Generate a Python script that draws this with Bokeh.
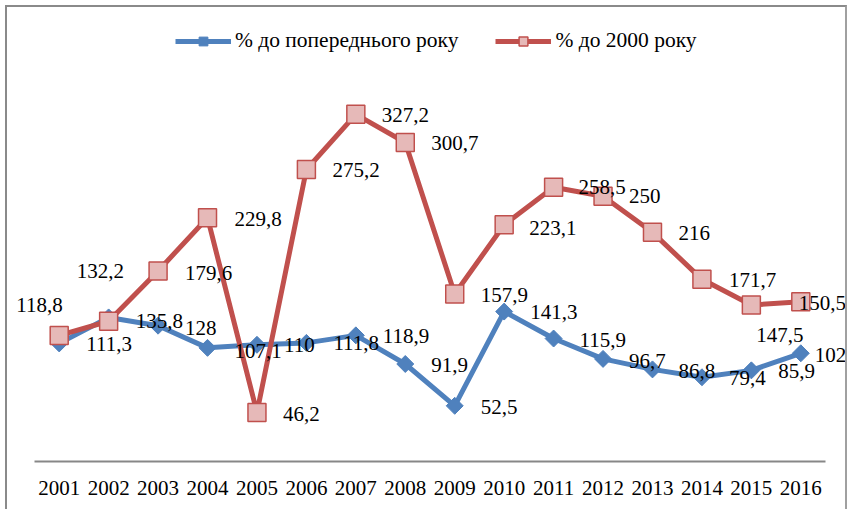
import math
from bokeh.plotting import figure
from bokeh.models import ColumnDataSource, FactorRange, Range1d, Legend, LegendItem, LabelSet
from bokeh.embed import file_html
from bokeh.resources import INLINE

# ---- data ----
years = ["2001", "2002", "2003", "2004", "2005", "2006", "2007", "2008",
         "2009", "2010", "2011", "2012", "2013", "2014", "2015", "2016"]
prev_year = [111.3, 135.8, 128, 107.1, 110, 111.8, 118.9, 91.9,
             52.5, 141.3, 115.9, 96.7, 86.8, 79.4, 85.9, 102]
to_2000 = [118.8, 132.2, 179.6, 229.8, 46.2, 275.2, 327.2, 300.7,
           157.9, 223.1, 258.5, 250, 216, 171.7, 147.5, 150.5]
name_prev = "% до попереднього року"
name_2000 = "% до 2000 року"

# ---- label placement (pixels, relative to each point; dy > 0 is downward) ----
blue_dx = [27, 27, 27, 27, 27, 27, 27, 26, 26, 26, 26, 26, 26, 27, 27, 14]
blue_dy = [1, 4, 2, 3, 0, 0, 1, 1, 1, 0, 1, 2, 2, 1, 1, 2]
red_dx = [-43, -32, 27, 27, 26, 26, 26, 26, 26, 25, 25, 26, 26, 27, 5, -2]
red_dy = [-30, -50, 2, 1, 2, 0, 1, 1, 1, 3, 0, 0, 1, 1, 30, 1]

def fmt(v):
    return ("%g" % v).replace(".", ",")

BLUE = "#4F81BD"
RED = "#C0504D"
PINK = "#E6B9B8"
FONT = "Liberation Serif"

src_b = ColumnDataSource(dict(x=years, y=prev_year, t=[fmt(v) for v in prev_year],
                              dx=blue_dx, dy=[-d for d in blue_dy]))
src_r = ColumnDataSource(dict(x=years, y=to_2000, t=[fmt(v) for v in to_2000],
                              dx=red_dx, dy=[-d for d in red_dy]))

W, H = 842, 504
scale = 1.061
bottom = 50
frame_h = H - bottom
p = figure(width=W, height=H, output_backend="svg", toolbar_location=None,
           x_range=FactorRange(*years, range_padding=0.485,
                               range_padding_units="absolute"),
           y_range=Range1d(0, frame_h / scale),
           y_axis_location=None,
           min_border_left=3, min_border_right=0, min_border_top=0,
           min_border_bottom=bottom)
p.styles = {"border-left": "2px solid #8a8a8a", "border-top": "2px solid #8a8a8a",
            "border-right": "2px solid #a0a0a0", "margin": "5px 0 0 5px"}
p.outline_line_color = None
p.xgrid.grid_line_color = None
p.ygrid.grid_line_color = None
p.background_fill_color = "white"
p.border_fill_color = "white"

ax = p.xaxis[0]
ax.bounds = (0, len(years))
ax.axis_line_color = "#878787"
ax.axis_line_width = 2
ax.major_tick_line_color = None
ax.minor_tick_line_color = None
ax.major_tick_out = 0
ax.major_label_standoff = 19
ax.major_label_text_font = FONT
ax.major_label_text_font_size = "21px"
ax.major_label_text_color = "black"

lb = p.line("x", "y", source=src_b, line_color=BLUE, line_width=5)
sb = p.scatter("x", "y", source=src_b, marker="square", angle=math.pi / 4, size=12,
               fill_color=BLUE, line_color=BLUE, line_width=1)
lr = p.line("x", "y", source=src_r, line_color=RED, line_width=5)
sr = p.scatter("x", "y", source=src_r, marker="square", size=18,
               fill_color=PINK, line_color=RED, line_width=1.5)

for src in (src_b, src_r):
    p.add_layout(LabelSet(x="x", y="y", text="t", source=src, x_offset="dx", y_offset="dy",
                          text_align="left", text_baseline="middle",
                          text_font=FONT, text_font_size="21px", text_color="black"))

legend = Legend(items=[LegendItem(label=name_prev, renderers=[lb, sb]),
                       LegendItem(label=name_2000, renderers=[lr, sr])],
                orientation="horizontal", location=(165, 408),
                glyph_width=56, glyph_height=22, label_standoff=4, spacing=37,
                padding=0, margin=0, border_line_alpha=0, background_fill_alpha=0,
                label_text_font=FONT, label_text_font_size="21.5px",
                label_text_color="black")
p.add_layout(legend)

open("out.html", "w").write(file_html(p, INLINE))
